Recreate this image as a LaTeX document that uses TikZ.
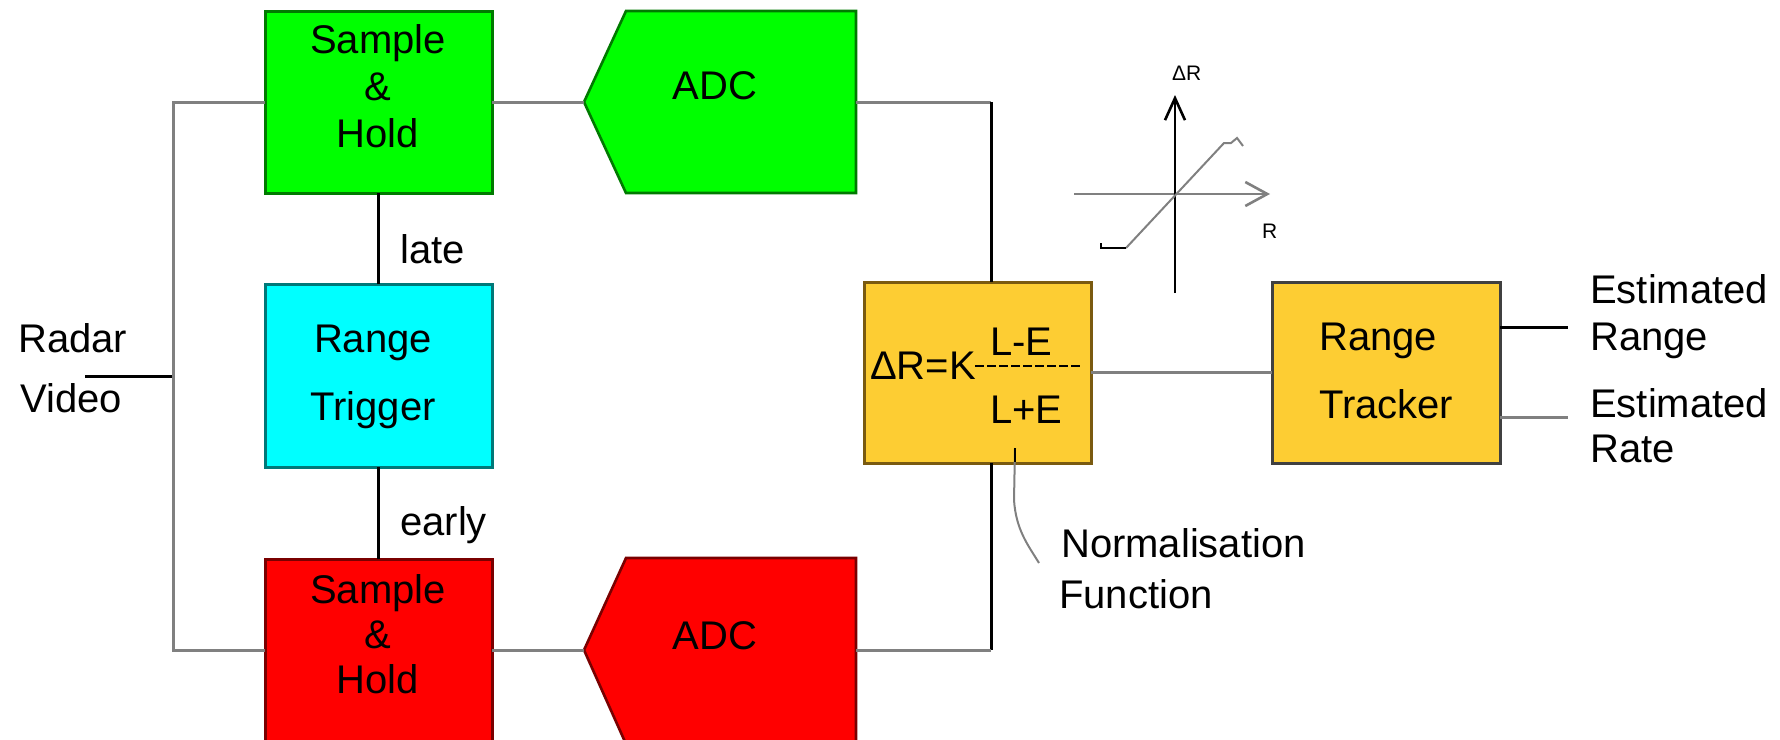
\documentclass[tikz,border=0pt]{standalone}
\usepackage{fontspec}
\setmainfont{Liberation Sans}
\usetikzlibrary{arrows.meta,calc}
\definecolor{bgreen}{HTML}{00FF00}
\definecolor{bcyan}{HTML}{00FFFF}
\definecolor{bred}{HTML}{FF0000}
\definecolor{byellow}{HTML}{FDCD33}
\definecolor{lgray}{HTML}{808080}
\definecolor{dgreen}{HTML}{007A00}
\definecolor{dteal}{HTML}{007878}
\definecolor{dred}{HTML}{7A0000}
\definecolor{dyel}{HTML}{7A5A10}
\begin{document}
\begin{tikzpicture}[x=1pt,y=-1pt,
  box/.style={rectangle, inner sep=0pt, outer sep=0pt, line width=3pt, minimum width=227pt, minimum height=182pt},
  gline/.style={draw=lgray, line width=3pt},
  bline/.style={draw=black, line width=3pt},
  txt/.style={inner sep=0pt, anchor=base, font=\fontsize{40}{47}\selectfont},
  ltxt/.style={inner sep=0pt, anchor=base west, font=\fontsize{40}{47}\selectfont},
  stxt/.style={inner sep=0pt, anchor=base west, font=\fontsize{21}{24}\selectfont},
  adcshape/.style={line width=2.6pt}]
\useasboundingbox (0,0) rectangle (1780,739);

% boxes
\node[box, fill=bgreen, draw=dgreen] (sh1) at (378.5,102) {};
\node[box, fill=bcyan, draw=dteal, minimum height=183pt] (trig) at (378.5,375.5) {};
\node[box, fill=bred, draw=dred] (sh2) at (378.5,650) {};
\node[box, fill=byellow, draw=dyel, minimum height=181pt] (norm) at (977.5,372.5) {};
\node[box, fill=byellow, draw=black!75, minimum width=228pt, minimum height=181pt] (trk) at (1386,372.5) {};

% ADC shapes
\draw[adcshape, fill=bgreen, draw=dgreen] (584,102) -- (626,11) -- (856,11) -- (856,193) -- (626,193) -- cycle;
\draw[adcshape, fill=bred, draw=dred] (584,650) -- (626,558) -- (856,558) -- (856,744) -- (626,744) -- cycle;
\coordinate (adc1w) at (584,102);
\coordinate (adc1e) at (856,102);
\coordinate (adc2w) at (584,650);
\coordinate (adc2e) at (856,650);

% texts in boxes
\node[txt] (sh1a) at (378,53) {Sample};
\node[txt] (sh1b) at (378,100) {\&};
\node[txt] (sh1c) at (378,147) {Hold};
\node[txt] (trga) at (373,352) {Range};
\node[txt] (trgb) at (373,420) {Trigger};
\node[txt] (sh2a) at (378,603) {Sample};
\node[txt] (sh2b) at (378,648) {\&};
\node[txt] (sh2c) at (378,693) {Hold};
\node[txt] (adc1) at (715,99) {ADC};
\node[txt] (adc2) at (715,649) {ADC};
\node[inner sep=0pt, anchor=base east, font=\fontsize{40}{47}\selectfont] (nk) at (976,379) {ΔR=K};
\node[ltxt] (nle) at (990,355) {L-E};
\node[ltxt] (nlpe) at (990,423) {L+E};
\draw[black, line width=2.4pt, dash pattern=on 9pt off 3pt] (975,366) -- (1080,366);
\node[ltxt] (trka) at (1319,350) {Range};
\node[ltxt] (trkb) at (1319,418) {Tracker};

% outer labels
\node[ltxt] (rada) at (18,352) {Radar};
\node[ltxt] (radb) at (20,412) {Video};
\node[ltxt] (late) at (400,263) {late};
\node[ltxt] (early) at (400,535) {early};
\node[ltxt] (era) at (1590,303) {Estimated};
\node[ltxt] (erb) at (1590,350) {Range};
\node[ltxt] (eta) at (1590,417) {Estimated};
\node[ltxt] (etb) at (1590,462) {Rate};
\node[ltxt] (nfa) at (1061,557) {Normalisation};
\node[ltxt] (nfb) at (1059,608) {Function};

% connectors
\coordinate (vin) at (85,376);
\coordinate (jn) at (173,376);
\draw[bline] (vin) -- (jn);
\draw[gline] (sh1.west) -| (jn) |- (sh2.west);
\draw[gline] (sh1.east) -- (adc1w);
\draw[gline] (sh2.east) -- (adc2w);
\draw[bline] (sh1.south) -- (trig.north);
\draw[bline] (trig.south) -- (sh2.north);
\coordinate (c1) at (991,102);
\coordinate (c2) at (991,650);
\draw[gline] (adc1e) -- (c1);
\draw[bline] (c1) -- (c1 |- norm.north);
\draw[bline] (c1 |- norm.south) -- (c2);
\draw[gline] (c2) -- (adc2e);
\draw[gline] (norm.east) -- (trk.west);
\coordinate (outr) at (1568,327);
\coordinate (outt) at (1568,417);
\draw[bline] (trk.east |- outr) -- (outr);
\draw[gline] (trk.east |- outt) -- (outt);

% pointer of the normalisation function
\draw[lgray, line width=2pt] (1015,448) -- (1014,500) .. controls (1016,530) and (1028,545) .. (1039,563);
\draw[black, line width=2pt] (1015,448) -- (1015,462);

% small graph
\node[stxt] (gdr) at (1172,80) {ΔR};
\node[stxt] (gr) at (1262,238) {R};
\draw[lgray, line width=2.8pt, -{Straight Barb[length=22pt,width=24pt,line width=2.6pt]}] (1074,194) -- (1270,194);
\draw[black, line width=2.8pt, -{Straight Barb[length=22pt,width=20pt,line width=2.6pt]}] (1175,293) -- (1175,95);
\draw[lgray, line width=2pt] (1126,248) -- (1224,143) -- (1231,143) -- (1237,138) -- (1243,146);
\draw[black, line width=2pt] (1101,243) -- (1101,248) -- (1126,248);
\end{tikzpicture}
\end{document}
